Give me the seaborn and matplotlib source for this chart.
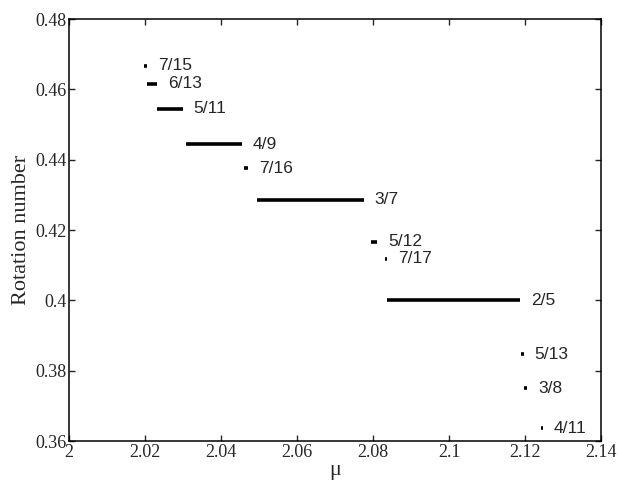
import numpy as np
import pandas as pd
import matplotlib
matplotlib.use("Agg")
import matplotlib.pyplot as plt
import seaborn as sns

# Mode-locking plateaus (rotation number p/q vs mu)
labels = ["7/15", "6/13", "5/11", "4/9", "7/16", "3/7",
          "5/12", "7/17", "2/5", "5/13", "3/8", "4/11"]
numer = [7, 6, 5, 4, 7, 3, 5, 7, 2, 5, 3, 4]
denom = [15, 13, 11, 9, 16, 7, 12, 17, 5, 13, 8, 11]
mu_start = [2.0196, 2.0205, 2.0232, 2.0308, 2.0461, 2.0494,
            2.0794, 2.0831, 2.0836, 2.1190, 2.1196, 2.1242]
mu_end = [2.0206, 2.0231, 2.0299, 2.0454, 2.0472, 2.0775,
          2.0810, 2.0836, 2.1187, 2.1196, 2.1205, 2.1247]

xticks = [2, 2.02, 2.04, 2.06, 2.08, 2.1, 2.12, 2.14]
yticks = [0.36, 0.38, 0.4, 0.42, 0.44, 0.46, 0.48]

rho = [p / q for p, q in zip(numer, denom)]

# long format: two points (start, end) per plateau
df = pd.DataFrame({
    "label": labels * 2,
    "mu": mu_start + mu_end,
    "rho": rho * 2,
})

sns.set_style("ticks")
fig = plt.figure(figsize=(6.19, 4.84), dpi=100)
ax = fig.add_axes([0.1115, 0.0888, 0.8595, 0.8719])

sns.lineplot(data=df, x="mu", y="rho", units="label", estimator=None,
             sort=False, color="black", linewidth=2.6,
             solid_capstyle="butt", legend=False, ax=ax)

for lab, x, y in zip(labels, mu_end, rho):
    ax.annotate(lab, (x, y), xytext=(8, 0), textcoords="offset points",
                ha="left", va="center", fontsize=12.5,
                family="Liberation Sans")

ax.set_xlim(2, 2.14)
ax.set_ylim(0.36, 0.48)
ax.set_xticks(xticks)
ax.set_xticklabels(["%g" % t for t in xticks])
ax.set_yticks(yticks)
ax.set_yticklabels(["%g" % t for t in yticks])
ax.tick_params(direction="in", length=4, width=1, top=True, right=True,
               labelsize=13, pad=2)
for lab in ax.get_xticklabels() + ax.get_yticklabels():
    lab.set_family("Liberation Serif")
for sp in ax.spines.values():
    sp.set_linewidth(1.1)
    sp.set_color("black")

ax.set_xlabel("μ", fontsize=16, family="Liberation Serif", labelpad=0)
ax.set_ylabel("Rotation number", fontsize=16, family="Liberation Serif",
              labelpad=3)

fig.savefig("out.png", dpi=100)
